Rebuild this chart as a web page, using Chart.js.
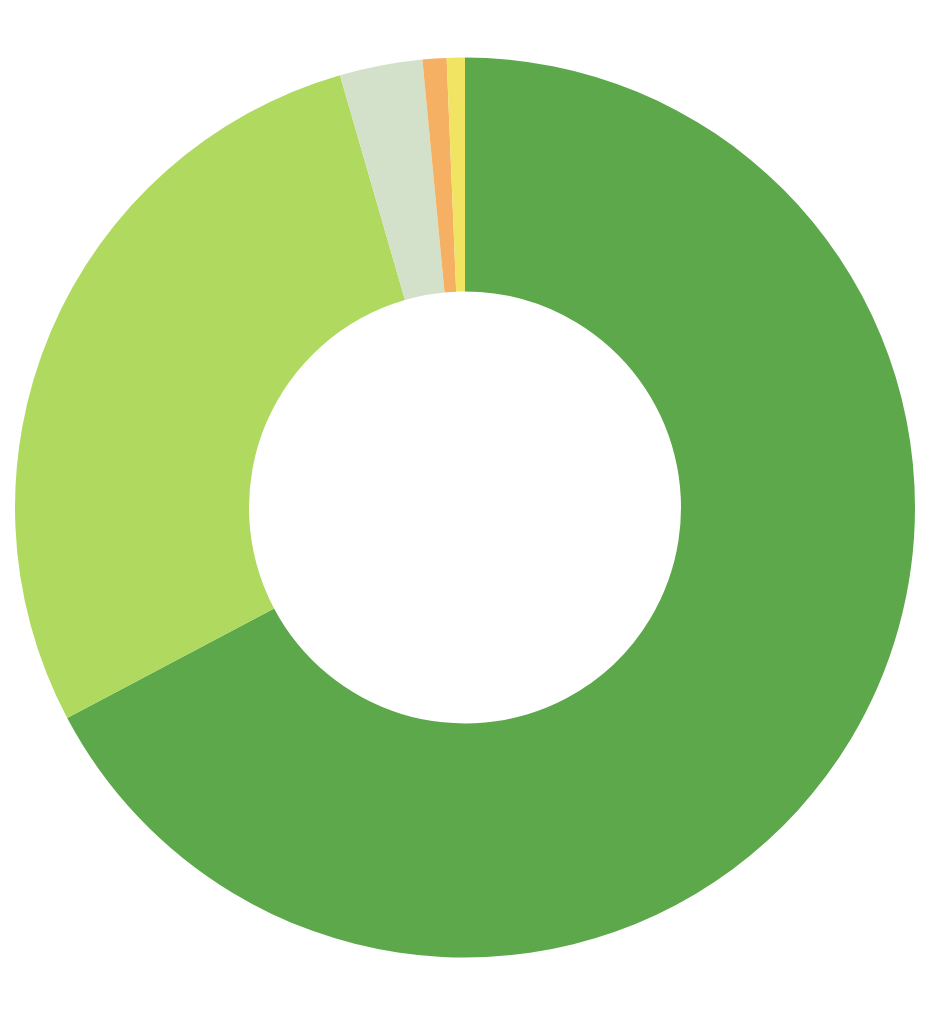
<!DOCTYPE html>
<html>
<head>
<meta charset="utf-8">
<script src="https://cdn.jsdelivr.net/npm/chart.js@4"></script>
<style>
  html, body { margin: 0; padding: 0; background: #fff; }
  #wrap { position: relative; width: 941px; height: 1015px; }
</style>
</head>
<body>
<div id="wrap"><canvas id="chart"></canvas></div>
<script>
const categories = ["Segment 1", "Segment 2", "Segment 3", "Segment 4", "Segment 5"];
const shares = [67.25, 28.26, 2.97, 0.86, 0.65];
const sliceColors = ["#5ca84a", "#b0d95f", "#d4e1ca", "#f6b063", "#f2e463"];

function createDoughnut(canvasId) {
  const ctx = document.getElementById(canvasId);
  if (!ctx) return;

  new Chart(ctx, {
    type: "doughnut",
    data: {
      labels: categories,
      datasets: [
        {
          data: shares,
          backgroundColor: sliceColors,
          borderWidth: 0,
        },
      ],
    },
    options: {
      responsive: true,
      maintainAspectRatio: false,
      animation: false,
      cutout: "48%",
      layout: {
        padding: { left: 15, right: 26, top: 0, bottom: 0 },
      },
      plugins: {
        legend: { display: false },
        tooltip: { enabled: false },
      },
    },
  });
}

window.addEventListener("DOMContentLoaded", () => createDoughnut("chart"));
</script>
</body>
</html>
